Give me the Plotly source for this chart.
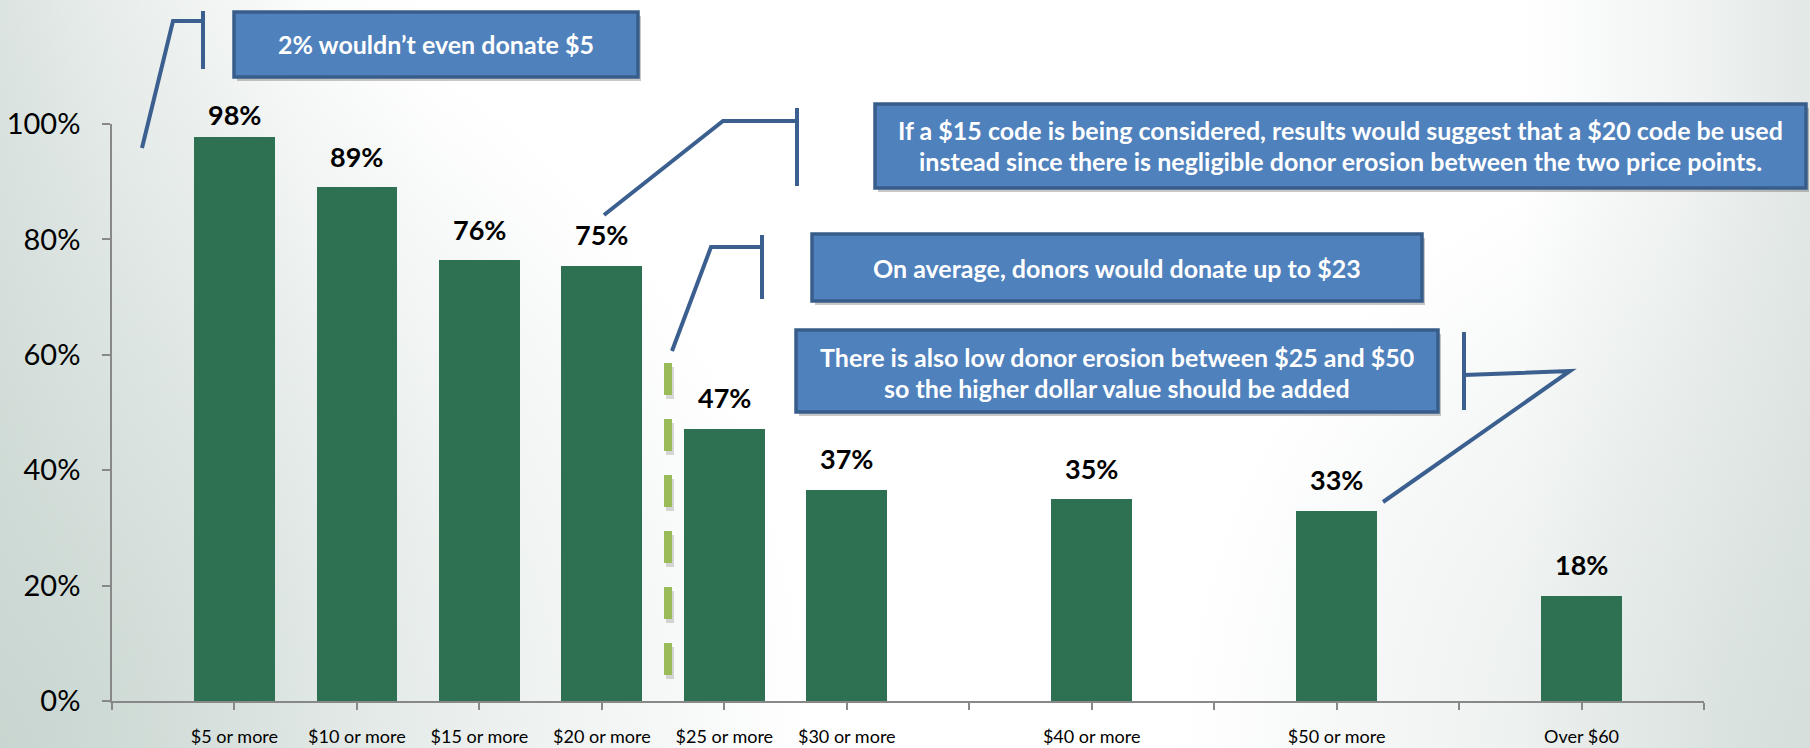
import base64
import plotly.graph_objects as go

# ---------------- data ----------------
categories = ["$5 or more", "$10 or more", "$15 or more", "$20 or more", "$25 or more",
              "$30 or more", "$40 or more", "$50 or more", "Over $60"]
thresholds = [5, 10, 15, 20, 25, 30, 40, 50, 60]          # dollar amount of each price point
share = [0.978, 0.89, 0.764, 0.754, 0.472, 0.366, 0.35, 0.33, 0.182]
y_tick_vals = [0, 0.2, 0.4, 0.6, 0.8, 1.0]
y_tick_text = ["0%", "20%", "40%", "60%", "80%", "100%"]
x_tick_vals = list(range(0, 70, 5))
callout_texts = [
    ["2% wouldn\u2019t even donate $5"],
    ["If a $15 code is being considered, results would suggest that a $20 code be used",
     "instead since there is negligible donor erosion between the two price points."],
    ["On average, donors would donate up to $23"],
    ["There is also low donor erosion between $25 and $50",
     "so the higher dollar value should be added"],
]

# ---------------- layout geometry ----------------
W, H = 1810, 748
ML, MR, MT, MB = 112, 106, 124, 47
PW, PH = W - ML - MR, H - MT - MB


def px(x):
    return (x - ML) / PW


def py(y):
    return (H - MB - y) / PH


BAR = "#2E7052"
BOX_FILL = "#4F81BD"
BOX_LINE = "#385D8A"
CALL_LINE = "#3B5F8E"
DASH = "#9BBB59"
AXIS = "#888888"

x_tick_text = [categories[thresholds.index(v)] if v in thresholds else "" for v in x_tick_vals]

fig = go.Figure()
fig.add_trace(go.Bar(
    x=thresholds, y=share, width=3.3, marker=dict(color=BAR, line=dict(width=0)),
    hoverinfo="skip", showlegend=False,
))

annotations = []
# data labels
for xv, v in zip(thresholds, share):
    top_px = H - MB - v * PH
    center_px = max(top_px - 31, 115)
    annotations.append(dict(
        x=xv, xref="x", y=py(center_px), yref="paper", text=f"{round(v * 100)}%",
        showarrow=False, xanchor="center", yanchor="middle",
        font=dict(family="Lato", size=27, color="#000000", weight="bold"),
    ))

shapes = []

# callout boxes: (left, top, right, bottom) in pixels, text line centres
boxes = [
    ((234, 12, 638, 77), [44]),
    ((875, 104, 1806, 188), [130, 161]),
    ((812, 234, 1422, 301), [268]),
    ((796, 330, 1438, 412), [357, 388]),
]
for (l, t, r, b), lines_y in boxes:
    shapes.append(dict(type="rect", xref="paper", yref="paper",
                       x0=px(l + 3), x1=px(r + 3), y0=py(t + 4), y1=py(b + 4),
                       fillcolor="rgba(0,0,0,0.22)", line=dict(width=0), layer="above"))
    shapes.append(dict(type="rect", xref="paper", yref="paper",
                       x0=px(l), x1=px(r), y0=py(t), y1=py(b),
                       fillcolor=BOX_FILL, line=dict(color=BOX_LINE, width=3.5), layer="above"))

for (box, lines_y), texts in zip(boxes, callout_texts):
    l, t, r, b = box
    for yy, txt in zip(lines_y, texts):
        annotations.append(dict(
            x=px((l + r) / 2), y=py(yy), xref="paper", yref="paper", text=txt,
            showarrow=False, xanchor="center", yanchor="middle",
            font=dict(family="Lato", size=25, color="#FFFFFF", weight="bold"),
        ))

# callout leader lines (pixel paths)
leaders = [
    [(142, 148), (173, 21), (203, 21)],
    [(604, 215), (723, 121), (797, 121)],
    [(672, 351), (711, 247), (762, 247)],
    [(1383, 502), (1570, 371), (1464, 375)],
]
bars_v = [
    (203, 11, 69),
    (797, 108, 186),
    (762, 235, 299),
    (1464, 332, 410),
]


def path_of(pts):
    s = ""
    for i, (x, y) in enumerate(pts):
        s += ("M" if i == 0 else " L") + f" {px(x):.5f},{py(y):.5f}"
    return s


for pts in leaders:
    shapes.append(dict(type="path", xref="paper", yref="paper", path=path_of(pts),
                       line=dict(color=CALL_LINE, width=4), layer="above"))
for x, y0, y1 in bars_v:
    shapes.append(dict(type="line", xref="paper", yref="paper",
                       x0=px(x), x1=px(x), y0=py(y0), y1=py(y1),
                       line=dict(color=CALL_LINE, width=4), layer="above"))

# green dashed divider with soft shadow
shapes.append(dict(type="line", xref="paper", yref="paper",
                   x0=px(670), x1=px(670), y0=py(367), y1=py(679),
                   line=dict(color="rgba(0,0,0,0.15)", width=8, dash="32px,24px"), layer="above"))
shapes.append(dict(type="line", xref="paper", yref="paper",
                   x0=px(668), x1=px(668), y0=py(363), y1=py(675),
                   line=dict(color=DASH, width=8, dash="32px,24px"), layer="above"))

# background gradient (slide background) as an SVG image
svg = f"""<svg xmlns='http://www.w3.org/2000/svg' width='{W}' height='{H}'>
<defs>
<linearGradient id='h' x1='0' x2='1' y1='0' y2='0'>
<stop offset='0' stop-color='#dde5e2'/>
<stop offset='0.06' stop-color='#eaefed'/>
<stop offset='0.17' stop-color='#fbfcfc'/>
<stop offset='0.24' stop-color='#ffffff'/>
<stop offset='0.84' stop-color='#ffffff'/>
<stop offset='0.93' stop-color='#f1f4f3'/>
<stop offset='1' stop-color='#e2e8e6'/>
</linearGradient>
<radialGradient id='bl' cx='0' cy='1' r='0.45' gradientTransform='scale(1,2.4) translate(0,-0.583)'>
<stop offset='0' stop-color='#c5d3cd' stop-opacity='0.85'/>
<stop offset='1' stop-color='#c5d3cd' stop-opacity='0'/>
</radialGradient>
<radialGradient id='br' cx='1' cy='1' r='0.35' gradientTransform='scale(1,2.4) translate(0,-0.583)'>
<stop offset='0' stop-color='#cfdad6' stop-opacity='0.7'/>
<stop offset='1' stop-color='#cfdad6' stop-opacity='0'/>
</radialGradient>
</defs>
<rect width='{W}' height='{H}' fill='url(#h)'/>
<rect width='{W}' height='{H}' fill='url(#bl)'/>
<rect width='{W}' height='{H}' fill='url(#br)'/>
</svg>"""
uri = "data:image/svg+xml;base64," + base64.b64encode(svg.encode()).decode()

fig.update_layout(
    width=W, height=H,
    margin=dict(l=ML, r=MR, t=MT, b=MB, pad=0, autoexpand=False),
    paper_bgcolor="#FFFFFF", plot_bgcolor="rgba(0,0,0,0)",
    showlegend=False, bargap=0,
    annotations=annotations, shapes=shapes,
    images=[dict(source=uri, xref="paper", yref="paper", x=px(0), y=py(0),
                 sizex=W / PW, sizey=H / PH, xanchor="left", yanchor="top",
                 sizing="stretch", layer="below")],
    xaxis=dict(range=[0, 65], tickmode="array", tickvals=x_tick_vals, ticktext=x_tick_text,
               showgrid=False, zeroline=False, showline=True, linecolor=AXIS, linewidth=1.5,
               ticks="outside", ticklen=7, tickcolor=AXIS, tickwidth=1.5,
               ticklabelstandoff=12, automargin=False,
               tickfont=dict(family="Lato", size=18, color="#000000"), fixedrange=True),
    yaxis=dict(range=[0, 1], tickmode="array", tickvals=y_tick_vals, ticktext=y_tick_text,
               showgrid=False, zeroline=False, showline=True, linecolor=AXIS, linewidth=1.5,
               ticks="outside", ticklen=8, tickcolor=AXIS, tickwidth=1.5,
               ticklabelstandoff=16, automargin=False,
               tickfont=dict(family="Lato", size=29, color="#000000"), fixedrange=True),
)

fig.write_html("out.html", config={"displayModeBar": False},
               post_script="document.body.style.margin='0';")
